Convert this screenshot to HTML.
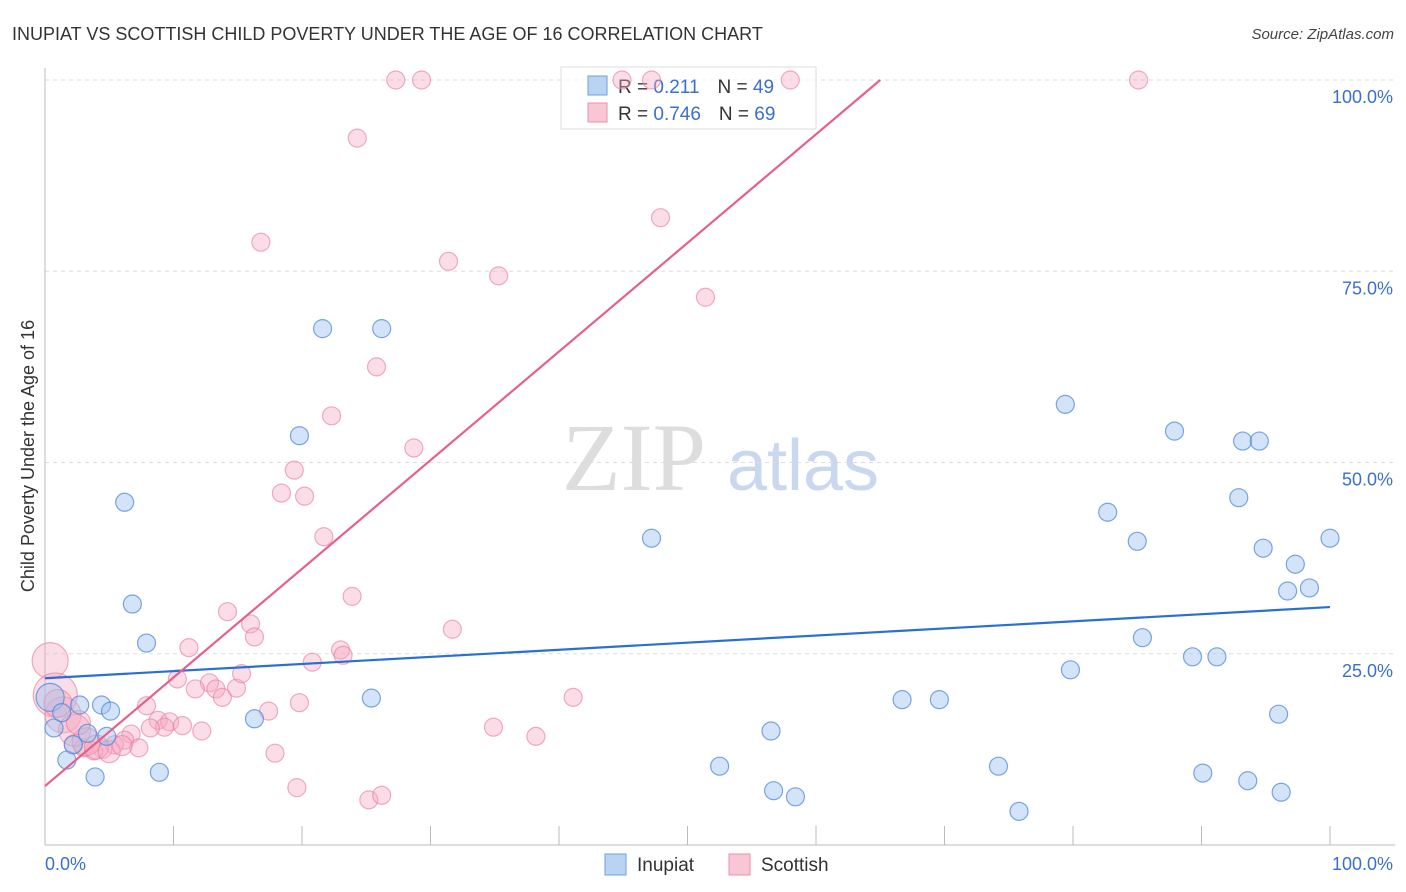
<!DOCTYPE html>
<html><head><meta charset="utf-8"><style>
body{margin:0;background:#fff;font-family:"Liberation Sans",sans-serif}
svg{display:block}
</style></head><body>
<svg id="chart" width="1406" height="892" viewBox="0 0 1406 892">
<text x="12" y="40" font-size="18" fill="#333">INUPIAT VS SCOTTISH CHILD POVERTY UNDER THE AGE OF 16 CORRELATION CHART</text>
<text x="1394" y="39" font-size="15" fill="#444" text-anchor="end" font-style="italic">Source: ZipAtlas.com</text>
<g>
<text x="634" y="490" font-size="96" fill="#ddd" text-anchor="middle" font-family="Liberation Serif,serif">ZIP</text>
<text x="803" y="490" font-size="72" fill="#c9d8ee" text-anchor="middle">atlas</text>
</g>
<g id="grid"></g>
<g id="axes"></g>
<g>
<rect x="561" y="67" width="255" height="62" fill="#fff" fill-opacity="0.6" stroke="#ddd"/>
<rect x="588" y="76" width="19" height="19" fill="#b9d3f3" stroke="#6a9fe0"/>
<rect x="588" y="103" width="19" height="19" fill="#f9c6d5" stroke="#ee8fab"/>
<text x="618" y="93" font-size="19" fill="#333">R = <tspan fill="#3a6fd0"> 0.211</tspan><tspan dx="18">N = </tspan><tspan fill="#3a6fd0">49</tspan></text>
<text x="618" y="120" font-size="19" fill="#333">R = <tspan fill="#3a6fd0">0.746</tspan><tspan dx="18">N = </tspan><tspan fill="#3a6fd0">69</tspan></text>
</g>
<g id="points"></g>
<g id="lines"></g>
<text transform="translate(34,456) rotate(-90)" font-size="18" fill="#333" text-anchor="middle">Child Poverty Under the Age of 16</text>
<g>
<rect x="605" y="854" width="21" height="21" fill="#b9d3f3" stroke="#6a9fe0"/>
<text x="637" y="871" font-size="19" fill="#333">Inupiat</text>
<rect x="729" y="854" width="21" height="21" fill="#f9c6d5" stroke="#ee8fab"/>
<text x="761" y="871" font-size="19" fill="#333">Scottish</text>
</g>
</svg>
<script>
const yTicks=[25,50,75,100];
const yTickLabels=["25.0%","50.0%","75.0%","100.0%"];
const xTickLabels=["0.0%","100.0%"];
const inupiatX=[21.6,26.2,19.8,6.2,6.8,7.9,25.4,16.3,47.2,79.4,87.9,93.2,94.5,92.9,82.7,85.0,94.8,97.3,96.7,98.4,100,85.4,79.8,89.3,91.2,66.7,69.6,96.0,56.5,52.5,74.2,90.1,93.6,96.2,56.7,58.4,75.8,8.9,3.9,1.7,0.7,2.7,4.4,5.1,3.3,4.8,2.2,0.4,1.3];
const inupiatY=[67.5,67.5,53.5,44.8,31.5,26.4,19.2,16.5,40.1,57.6,54.1,52.8,52.8,45.4,43.5,39.7,38.8,36.7,33.2,33.6,40.1,27.1,22.9,24.6,24.6,19.0,19.0,17.1,14.9,10.3,10.3,9.4,8.4,6.9,7.1,6.3,4.4,9.5,8.9,11.1,15.3,18.3,18.3,17.5,14.6,14.2,13.1,19.3,17.3];
const inupiatR=[9,9,9,9,9,9,9,9,9,9,9,9,9,9,9,9,9,9,9,9,9,9,9,9,9,9,9,9,9,9,9,9,9,9,9,9,9,9,9,9,9,9,9,9,9,9,9,14,9];
const scottishX=[27.3,29.3,44.9,47.2,58.0,85.1,24.3,47.9,16.8,31.4,35.3,51.4,25.8,22.3,28.7,19.4,18.4,20.2,21.7,23.9,14.2,31.7,16.0,16.3,11.2,23.0,23.2,20.8,10.3,12.8,11.7,13.3,14.9,15.3,13.8,41.1,17.4,19.8,7.9,8.8,9.7,9.3,10.7,12.2,6.7,8.2,34.9,38.2,6.2,7.3,5.4,4.5,3.8,3.0,2.2,17.9,19.6,25.2,26.2,0.4,0.8,1.4,2.3,3.2,4.0,5.0,1.0,2.6,6.0];
const scottishY=[100,100,100,100,100,100,92.4,82.0,78.8,76.3,74.4,71.6,62.5,56.1,51.9,49.0,46.0,45.6,40.3,32.5,30.5,28.2,28.9,27.2,25.8,25.5,24.8,23.9,21.7,21.2,20.4,20.4,20.5,22.4,19.3,19.3,17.5,18.6,18.2,16.3,16.1,15.4,15.6,14.9,14.5,15.3,15.4,14.2,13.7,12.7,13.1,12.5,12.3,12.7,13.2,12.0,7.5,5.9,6.5,24.1,19.6,17.0,15.0,13.5,12.8,12.2,18.5,16.0,13.0];
const scottishR=[9,9,9,9,9,9,9,9,9,9,9,9,9,9,9,9,9,9,9,9,9,9,9,9,9,9,9,9,9,9,9,9,9,9,9,9,9,9,9,9,9,9,9,9,9,9,9,9,9,9,9,9,9,9,9,9,9,9,9,18,22,18,16,14,12,11,14,12,10];
const inupiatLine=[21.8,31.1];
const scottishLine=[7.7,1.42];
const NS="http://www.w3.org/2000/svg";
const X0=45,X1=1330,Y0=845,Y1=80;
const sx=v=>X0+(X1-X0)*v/100, sy=v=>Y0-(Y0-Y1)*v/100;
function mk(t,a,p){const e=document.createElementNS(NS,t);for(const k in a)e.setAttribute(k,a[k]);p.appendChild(e);return e;}
const grid=document.getElementById('grid'),axes=document.getElementById('axes'),pts=document.getElementById('points'),lines=document.getElementById('lines');
yTicks.forEach((t,i)=>{
 const g=mk('line',{x1:45,x2:1395,y1:sy(t),y2:sy(t),stroke:'#ddd','stroke-dasharray':'4,4'},grid);
 
 
 const l=mk('text',{x:1393,y:sy(t)+23,'font-size':18,fill:'#3a6fd0','text-anchor':'end'},axes);
 l.textContent=yTickLabels[i];
 
 
});
const ya=mk('line',{x1:45,x2:45,y1:68,y2:845,stroke:'#bbb'},axes);


const xa=mk('line',{x1:45,x2:1395,y1:845,y2:845,stroke:'#bbb'},axes);


for(let i=0;i<=10;i++){
 const t=mk('line',{x1:sx(i*10),x2:sx(i*10),y1:826,y2:845,stroke:'#bbb'},axes);
 
 
}
[[0,'start',45],[100,'end',1393]].forEach((d,i)=>{
 const l=mk('text',{x:d[2],y:870,'font-size':18,fill:'#3a6fd0','text-anchor':d[1]},axes);
 l.textContent=xTickLabels[i];
 
 
});
scottishX.forEach((x,i)=>{
 const c=mk('circle',{cx:sx(x),cy:sy(scottishY[i]),r:scottishR[i],fill:'rgba(246,170,195,0.4)',stroke:'rgba(232,120,155,0.6)','stroke-width':1.2},pts);
 
 
});
inupiatX.forEach((x,i)=>{
 const c=mk('circle',{cx:sx(x),cy:sy(inupiatY[i]),r:inupiatR[i],fill:'rgba(160,195,240,0.45)',stroke:'rgba(70,130,215,0.7)','stroke-width':1.2},pts);
 
 
});
const bl=mk('line',{x1:sx(0),y1:sy(inupiatLine[0]),x2:sx(100),y2:sy(inupiatLine[1]),stroke:'#2a6fd4','stroke-width':2.2},lines);


const xe=(100-scottishLine[0])/scottishLine[1];
const pl=mk('line',{x1:sx(0),y1:sy(scottishLine[0]),x2:sx(xe),y2:sy(100),stroke:'#e8608a','stroke-width':2.2},lines);


</script>
</body></html>
